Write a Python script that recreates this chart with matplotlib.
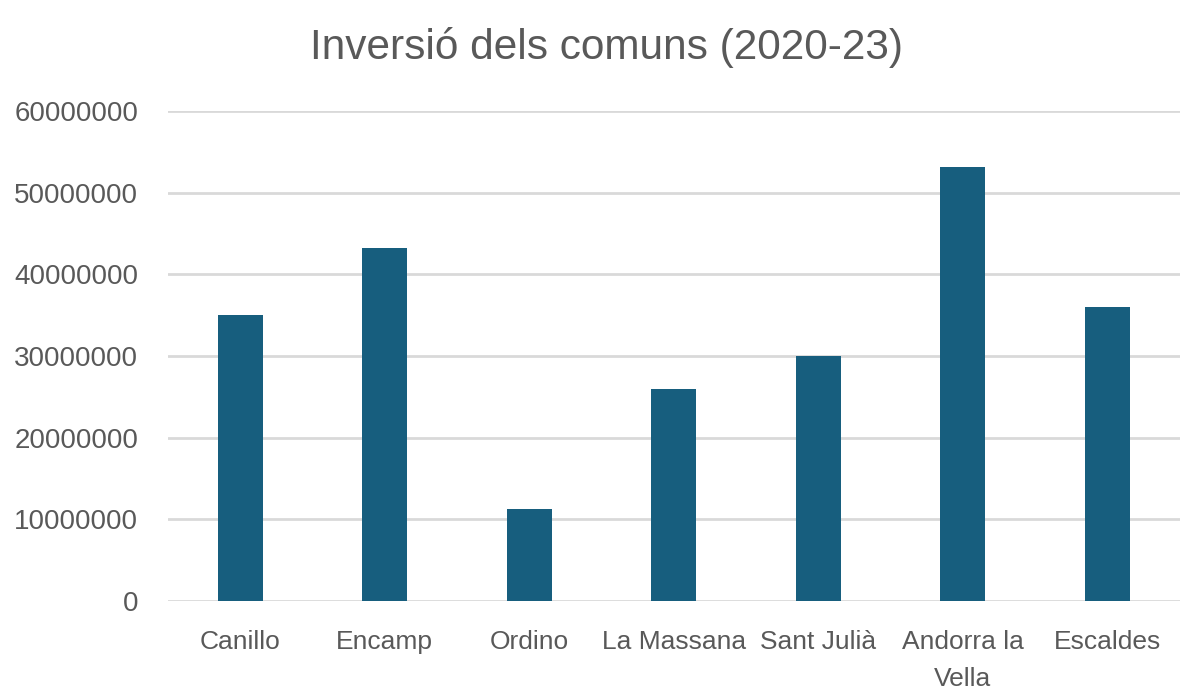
import matplotlib
matplotlib.use("Agg")
import matplotlib.pyplot as plt

categories = ["Canillo", "Encamp", "Ordino", "La Massana", "Sant Julià", "Andorra la\nVella", "Escaldes"]
values = [35000000, 43200000, 11300000, 26000000, 30000000, 53200000, 36000000]
yticks = [0, 10000000, 20000000, 30000000, 40000000, 50000000, 60000000]
title = "Inversió dels comuns (2020-23)"

plt.rcParams['font.family'] = ['Liberation Sans', 'DejaVu Sans']
text_color = "#595959"

fig = plt.figure(figsize=(12, 6.98), dpi=100)
ax = fig.add_axes([0.14, 0.139, 0.843, 0.702])
x = range(len(categories))
ax.bar(x, values, width=0.31, color="#175E7E", zorder=3)
ax.set_xlim(-0.5, len(categories) - 0.5)
ax.set_ylim(0, 60000000)
ax.set_yticks(yticks)
ax.set_yticklabels([str(v) for v in yticks], fontsize=20, color=text_color)
ax.set_xticks(list(x))
ax.set_xticklabels(categories, fontsize=19, color=text_color, linespacing=1.7)
ax.tick_params(axis='both', length=0)
ax.tick_params(axis='y', pad=21.5)
ax.tick_params(axis='x', pad=21)
ax.yaxis.grid(True, color="#D9D9D9", linewidth=2, zorder=0)
for s in ax.spines.values():
    s.set_visible(False)
fig.text(0.505, 0.932, title, ha='center', va='center', fontsize=30.5, color=text_color)
fig.savefig("out.png", dpi=100)
